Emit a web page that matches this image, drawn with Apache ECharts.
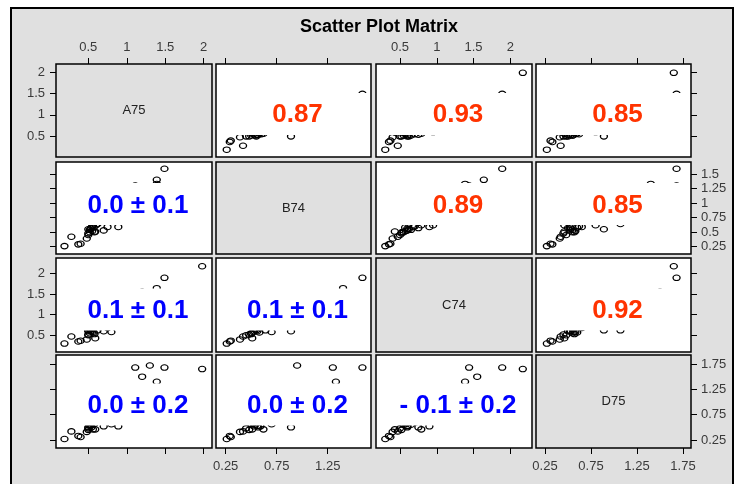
<!DOCTYPE html>
<html>
<head>
<meta charset="utf-8">
<script src="https://cdn.jsdelivr.net/npm/echarts@6/dist/echarts.min.js"></script>
<style>
html,body{margin:0;padding:0;background:#fff;}
#c{width:735px;height:484px;}
</style>
</head>
<body>
<div id="c"></div>
<script>
// ---------------- data ----------------
const variables = ['A75', 'B74', 'C74', 'D75'];
const A75 = [1.98, 1.49, 1.39, 1.39, 1.11, 1.30, 1.20, 0.19, 0.37, 0.28, 0.48, 0.50, 0.50, 0.50, 0.60, 0.89, 0.70, 0.52, 0.55, 0.53, 0.57, 0.52, 0.55, 0.50, 0.58, 0.54, 0.80, 0.59, 0.75, 0.40, 0.56, 0.62];
const B74 = [null, 1.59, 1.40, 1.33, 1.30, 0.95, null, 0.26, 0.29, 0.42, 0.39, 0.48, 0.89, 0.55, 0.62, 0.59, 0.53, 0.50, 0.52, 0.56, 0.58, 0.54, 0.60, 0.45, 0.50, 0.57, 0.70, 0.51, 0.59, 0.30, 0.62, 0.64];
const C74 = [2.17, 1.89, 1.64, 1.385, 1.44, null, 1.55, 0.30, 0.35, 0.47, 0.40, 0.52, 0.60, 0.62, 0.95, 0.90, 0.60, 0.55, 0.58, 0.60, 0.57, 0.65, 0.70, 0.50, 0.53, 0.75, 0.58, 0.43, 0.68, 0.37, 0.79, 0.62];
const D75 = [1.65, 1.68, null, 1.40, 1.68, 1.72, 1.50, 0.27, 0.33, 0.42, 0.41, 0.45, 0.50, 0.89, 0.80, 0.52, 0.52, 0.55, 0.58, 0.53, 0.60, 0.55, 0.62, 0.48, 0.57, 0.50, 0.56, 0.46, 0.65, 0.31, 0.46, 1.07];

// correlation texts (upper triangle) in order (0,1),(0,2),(0,3),(1,2),(1,3),(2,3)
const upperTexts = ['0.87', '0.93', '0.85', '0.89', '0.85', '0.92'];
// lower triangle texts in order (1,0),(2,0),(2,1),(3,0),(3,1),(3,2)
const lowerTexts = ['0.0 ± 0.1', '0.1 ± 0.1', '0.1 ± 0.1', '0.0 ± 0.2', '0.0 ± 0.2', '- 0.1 ± 0.2'];

// tick values
const xTicks = [[0.5, 1, 1.5, 2], [0.25, 0.75, 1.25], [0.5, 1, 1.5, 2], [0.25, 0.75, 1.25, 1.75]];
const yTicks = [[0.5, 1, 1.5, 2], [0.25, 0.5, 0.75, 1, 1.25, 1.5], [0.5, 1, 1.5, 2], [0.25, 0.75, 1.25, 1.75]];
// axis ranges
const xRanges = [[0.08, 2.108], [0.155, 1.674], [0.174, 2.295], [0.152, 1.837]];
const yRanges = [[0.019, 2.186], [0.124, 1.707], [0.096, 2.37], [0.092, 1.928]];

// ---------------- layout ----------------
const colLeft = [56, 216, 376, 536];
const colW = [156, 155, 156, 155];
const rowTop = [64, 162, 258, 355];
const rowH = [93, 92, 94, 93];
const textCY = [114.5, 205.5, 311, 406];
const boxCY = [114, 204, 309.5, 404.5];

const FONT = "'Liberation Sans', Arial, Helvetica, sans-serif";
const vars = [A75, B74, C74, D75];

const grid = [], xAxis = [], yAxis = [], series = [], graphic = [];

graphic.push({
  type: 'rect', z: -10, silent: true,
  shape: {x: 11, y: 8, width: 722, height: 500},
  style: {fill: '#e0e0e0', stroke: '#000', lineWidth: 2}
});
graphic.push({
  type: 'text', z: 10, silent: true,
  style: {text: 'Scatter Plot Matrix', x: 379, y: 27, textAlign: 'center', textVerticalAlign: 'middle',
    font: "bold 18px " + FONT, fill: '#000'}
});

let ui = 0, li = 0;
for (let i = 0; i < 4; i++) {
  for (let j = 0; j < 4; j++) {
    const k = i * 4 + j;
    grid.push({
      left: colLeft[j], top: rowTop[i], width: colW[j], height: rowH[i],
      show: true, backgroundColor: i === j ? '#e0e0e0' : '#ffffff',
      borderColor: '#000', borderWidth: 1.5, containLabel: false
    });
    const xShow = (i === 0 || i === 3);
    const xLab = (i === 0 && j % 2 === 0) || (i === 3 && j % 2 === 1);
    xAxis.push({
      type: 'value', gridIndex: k, min: xRanges[j][0], max: xRanges[j][1],
      position: i === 0 ? 'top' : 'bottom', show: xShow,
      axisLine: {show: false}, splitLine: {show: false},
      axisTick: {show: true, inside: false, length: 6, customValues: xTicks[j], lineStyle: {color: '#000', width: 1}},
      axisLabel: {show: xLab, customValues: xTicks[j], margin: i === 0 ? 10 : 12, color: '#3a3a3a', fontSize: 13, fontFamily: FONT}
    });
    const yShow = (j === 0 || j === 3);
    const yLab = (j === 0 && i % 2 === 0) || (j === 3 && i % 2 === 1);
    yAxis.push({
      type: 'value', gridIndex: k, min: yRanges[i][0], max: yRanges[i][1],
      position: j === 0 ? 'left' : 'right', show: yShow,
      axisLine: {show: false}, splitLine: {show: false},
      axisTick: {show: true, inside: false, length: 6, customValues: yTicks[i], lineStyle: {color: '#000', width: 1}},
      axisLabel: {show: yLab, customValues: yTicks[i], margin: j === 0 ? 11 : 10, color: '#3a3a3a', fontSize: 13, fontFamily: FONT}
    });
    const cx = colLeft[j] + colW[j] / 2;
    if (i === j) {
      graphic.push({
        type: 'text', z: 10, silent: true,
        style: {text: variables[i], x: cx, y: rowTop[i] + rowH[i] / 2, textAlign: 'center', textVerticalAlign: 'middle',
          font: "13px " + FONT, fill: '#222'}
      });
      continue;
    }
    const data = [];
    const xs = vars[j], ys = vars[i];
    for (let n = 0; n < xs.length; n++) {
      if (xs[n] != null && ys[n] != null) data.push([xs[n], ys[n]]);
    }
    series.push({
      type: 'scatter', xAxisIndex: k, yAxisIndex: k, data: data,
      symbol: 'circle', symbolSize: [7, 5.5], silent: true, z: 2,
      itemStyle: {color: 'rgba(0,0,0,0)', borderColor: '#000', borderWidth: 1.2, opacity: 1}
    });
    // white band behind the text
    graphic.push({
      type: 'rect', z: 50, silent: true,
      shape: {x: colLeft[j] + 1, y: boxCY[i] - 21, width: colW[j] - 2, height: 42},
      style: {fill: '#fff'}
    });
    const isUpper = i < j;
    const txt = isUpper ? upperTexts[ui++] : lowerTexts[li++];
    graphic.push({
      type: 'text', z: 51, silent: true,
      style: {text: txt, x: cx + 4, y: textCY[i], textAlign: 'center', textVerticalAlign: 'middle',
        font: "bold 26px " + FONT, fill: isUpper ? '#ff3300' : '#0000ff'}
    });
  }
}

const chart = echarts.init(document.getElementById('c'), null, {renderer: 'canvas'});
chart.setOption({
  animation: false,
  backgroundColor: '#ffffff',
  grid: grid, xAxis: xAxis, yAxis: yAxis, series: series, graphic: graphic
});
</script>
</body>
</html>
